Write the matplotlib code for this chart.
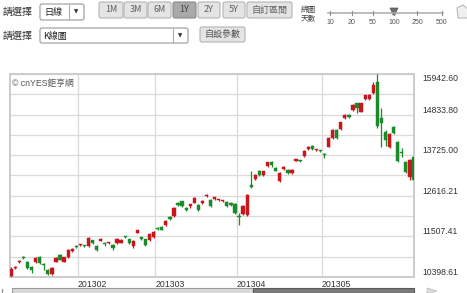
import matplotlib
matplotlib.use("Agg")
import matplotlib.pyplot as plt
from matplotlib.patches import Rectangle, FancyBboxPatch, Polygon
import numpy as np

# ======= DATA =======
opens = [10420, 10640, 10800, 10930, 10815, 10680, 10815, 10955, 10735, 10590,
         10480, 10815, 11000, 10820, 10945, 11105, 11230, 11260, 11250, 11245,
         11409, 11255, 11395, 11320, 11315, 11273, 11327, 11330, 11500, 11436,
         11245, 11600, 11480, 11436, 11409, 11491, 11737, 11764, 11819, 12040,
         12055, 12410, 12465, 12280, 12345, 12430, 12365, 12420, 12615, 12501,
         12525, 12495, 12475, 12460, 12420, 12392, 12060, 12110, 12092, 12900,
         13075, 13293, 13180, 13430, 13550, 13370, 13020, 13350, 13321, 13230,
         13580, 13580, 13690, 13900, 13976, 13860, 13850, 13740, 13960, 14200,
         14413, 14440, 14740, 14823, 14960, 15140, 14915, 15260, 15260, 15420,
         15735, 14741, 14366, 13940, 14505, 14095, 13795, 13547, 13135, 13680]
highs = [10670, 10700, 10860, 10960, 10840, 10700, 10950, 10980, 10780, 10610,
         10670, 10945, 11020, 10950, 11160, 11190, 11260, 11310, 11270, 11490,
         11420, 11270, 11470, 11350, 11360, 11290, 11460, 11430, 11530, 11450,
         11400, 11690, 11500, 11450, 11590, 11650, 11760, 11780, 11950, 12055,
         12300, 12440, 12480, 12300, 12380, 12570, 12380, 12490, 12660, 12520,
         12590, 12530, 12510, 12480, 12440, 12410, 12146, 12370, 12660, 13280,
         13200, 13310, 13300, 13550, 13570, 13390, 13260, 13420, 13340, 13340,
         13620, 13600, 13860, 13970, 13990, 13900, 13860, 13785, 14210, 14430,
         14430, 14640, 14840, 14840, 15110, 15160, 15160, 15380, 15390, 15735,
         15942.60, 15014, 14413, 14330, 14530, 14120, 13920, 13570, 13620, 13700]
lows = [10398.61, 10610, 10780, 10890, 10610, 10508, 10790, 10750, 10590, 10450,
        10460, 10800, 10850, 10800, 10930, 11090, 11180, 11240, 11225, 11230,
        11310, 11110, 11380, 11250, 11300, 11136, 11310, 11315, 11470, 11310,
        11200, 11590, 11420, 11250, 11390, 11470, 11680, 11670, 11800, 11960,
        12040, 12340, 12310, 12200, 12280, 12410, 12210, 12400, 12590, 12320,
        12500, 12480, 12460, 12320, 12340, 12120, 11819, 12080, 12070, 12840,
        13050, 13170, 13160, 13410, 13400, 13280, 13000, 13330, 13210, 13210,
        13560, 13540, 13670, 13880, 13880, 13840, 13800, 13650, 13940, 14180,
        14170, 14420, 14720, 14740, 14940, 14885, 14895, 15240, 15240, 15400,
        14470, 13960, 13976, 13920, 14300, 13550, 13680, 13250, 13050, 13020]
closes = [10620, 10670, 10830, 10915, 10645, 10590, 10925, 10775, 10715, 10470,
          10645, 10925, 10865, 10935, 11135, 11165, 11210, 11290, 11240, 11464,
          11327, 11136, 11420, 11290, 11335, 11191, 11436, 11409, 11485, 11327,
          11382, 11670, 11445, 11273, 11573, 11628, 11700, 11682, 11935, 11975,
          12283, 12370, 12330, 12240, 12360, 12556, 12228, 12474, 12638, 12338,
          12575, 12510, 12490, 12338, 12365, 12137, 12030, 12345, 12638, 12860,
          13184, 13184, 13285, 13530, 13460, 13300, 13239, 13400, 13230, 13321,
          13600, 13560, 13840, 13950, 13894, 13880, 13830, 13720, 14185, 14413,
          14190, 14625, 14823, 14760, 15096, 15010, 15140, 15369, 15369, 15640,
          14510, 14613, 14140, 14304, 14325, 13575, 13775, 13275, 13594, 13048]

month_labels = ["201302", "201303", "201304", "201305"]
month_start = [17, 36, 56, 77]   # index of first candle in each month

up_color = "#c8161d"
down_color = "#1a8a2a"

# ======= FIGURE =======
fig = plt.figure(figsize=(4.67, 2.93), dpi=100)
fig.patch.set_facecolor("white")

cjk = ["Noto Sans CJK TC", "DejaVu Sans"]
latin = ["Liberation Sans", "Noto Sans CJK TC"]

# pixel-space overlay for the page widgets
bg = fig.add_axes([0, 0, 1, 1])
bg.set_xlim(0, 467)
bg.set_ylim(293, 0)
bg.axis("off")


def box(x0, y0, x1, y1, fc, ec="#9a9a9a", r=2):
    bg.add_patch(FancyBboxPatch((x0, y0), x1 - x0, y1 - y0,
                                boxstyle="round,pad=0,rounding_size=%g" % r,
                                fc=fc, ec=ec, lw=0.8))


# row 1
bg.text(3, 12, "請選擇", family=cjk, fontsize=7.2, color="#333333", va="center")
box(40, 4, 84, 20, "white")
bg.plot([69, 69], [5, 19], color="#b0b0b0", lw=0.8)
bg.text(44, 12, "日線", family=cjk, fontsize=6.5, color="#222222", va="center")
bg.text(76.5, 12, "▼", family="DejaVu Sans", fontsize=4, color="#333333",
        va="center", ha="center")

buttons = [("1M", 99, 123), ("3M", 124, 147), ("6M", 148, 171), ("1Y", 173, 196),
           ("2Y", 198, 220), ("5Y", 223, 245), ("自訂區間", 247, 292)]
for lab, x0, x1 in buttons:
    sel = lab == "1Y"
    box(x0, 2, x1, 18, "#a9a9a9" if sel else "#e4e4e4",
        ec="#8a8a8a" if sel else "#b5b5b5")
    bg.text((x0 + x1) / 2, 10, lab, family=cjk, fontsize=6.5,
            color="#444444" if sel else "#606060", ha="center", va="center")

bg.text(301, 10, "綿圖", family=cjk, fontsize=5.5, color="#444444", va="center")
bg.text(301, 18, "天數", family=cjk, fontsize=5.5, color="#444444", va="center")
bg.plot([328, 443], [13, 13], color="#b0b0b0", lw=1.2)
slider_x = [330, 352, 373, 394, 417, 442]
slider_lab = ["10", "20", "50", "100", "250", "500"]
for sx, sl in zip(slider_x, slider_lab):
    bg.plot([sx, sx], [11, 15], color="#909090", lw=0.8)
    bg.text(sx, 22, sl, family=latin, fontsize=5, color="#555555",
            ha="center", va="center")
bg.add_patch(Polygon([[390, 8], [398, 8], [396, 12], [395, 15], [393, 15], [392, 12]],
                     closed=True, fc="#6a6a6a", ec="#555555", lw=0.5))
bg.add_patch(Polygon([[457, 8], [463, 5], [468, 9], [468, 18], [458, 18]],
                     closed=True, fc="#f0f0f0", ec="#b8b8b8", lw=0.8))

# row 2
bg.text(3, 36, "請選擇", family=cjk, fontsize=7.2, color="#333333", va="center")
box(40, 28, 188, 43, "white")
bg.plot([173, 173], [29, 42], color="#b0b0b0", lw=0.8)
bg.text(43, 36, "K線圖", family=cjk, fontsize=6.5, color="#222222", va="center")
bg.text(180.5, 35.5, "▼", family="DejaVu Sans", fontsize=4, color="#333333",
        va="center", ha="center")
box(200, 27, 245, 42, "#e4e4e4", ec="#b5b5b5")
bg.text(222.5, 34.5, "自設參數", family=cjk, fontsize=6.5, color="#555555",
        ha="center", va="center")

# scrollbar under the chart
bg.add_patch(Rectangle((12, 288), 241, 6, fc="#d9d9d9", ec="#9a9a9a", lw=0.8))
bg.add_patch(Rectangle((253, 288), 161, 6, fc="#7a7a7a", ec="#5a5a5a", lw=0.8))
bg.add_patch(Polygon([[427, 288], [437, 291], [427, 294]], closed=True,
                     fc="#dcdcdc", ec="#c0c0c0", lw=0.6))
bg.plot([2, 2], [289, 292], color="#888888", lw=0.8)

# ======= CANDLESTICK CHART =======
ax = fig.add_axes([10 / 467, 16 / 293, 404 / 467, 203 / 293])
ax.set_facecolor("white")

n = len(opens)
idx = np.arange(n)
o = np.array(opens, dtype=float)
h = np.array(highs, dtype=float)
l = np.array(lows, dtype=float)
c = np.array(closes, dtype=float)
colors = np.where(c >= o, up_color, down_color)

lo, hi = l.min(), h.max()
ax.set_xlim(-0.3, 99.0)
ax.set_ylim(lo, hi)

ax.vlines(idx, l, h, colors=colors, lw=0.9, zorder=3)
body_bottom = np.minimum(o, c)
body_height = np.maximum(np.abs(c - o), 35)
ax.bar(idx, body_height, bottom=body_bottom, width=0.8, color=colors,
       edgecolor=colors, lw=0.3, zorder=4)

# price scale: six labelled levels, gridlines at half steps
levels = np.linspace(lo, hi, 6)
ax.yaxis.tick_right()
ax.set_yticks(levels)
ax.set_yticks((levels[:-1] + levels[1:]) / 2, minor=True)
ax.set_yticklabels(["%.2f" % v for v in levels], family=latin, fontsize=6.2,
                   color="#333333")
for i, t in enumerate(ax.get_yticklabels()):
    t.set_va("top" if i == len(levels) - 1 else "bottom")
ax.tick_params(axis="y", which="both", length=0, pad=6)

ax.set_xticks([m - 0.6 for m in month_start])
ax.set_xticklabels(month_labels, family=latin, fontsize=6.3, color="#333333",
                   ha="left")
ax.tick_params(axis="x", length=0, pad=2)

ax.grid(True, which="both", axis="y", color="#dadada", lw=0.9, zorder=0)
ax.grid(True, axis="x", color="#dadada", lw=0.9, zorder=0)
ax.set_axisbelow(True)

for s in ax.spines.values():
    s.set_color("#cccccc")
    s.set_linewidth(1.4)

ax.text(0.005, 0.955, "© cnYES鉅亨網", transform=ax.transAxes, family=latin,
        fontsize=6.3, color="#555555", va="center", ha="left")

fig.savefig("out.png", dpi=100)
